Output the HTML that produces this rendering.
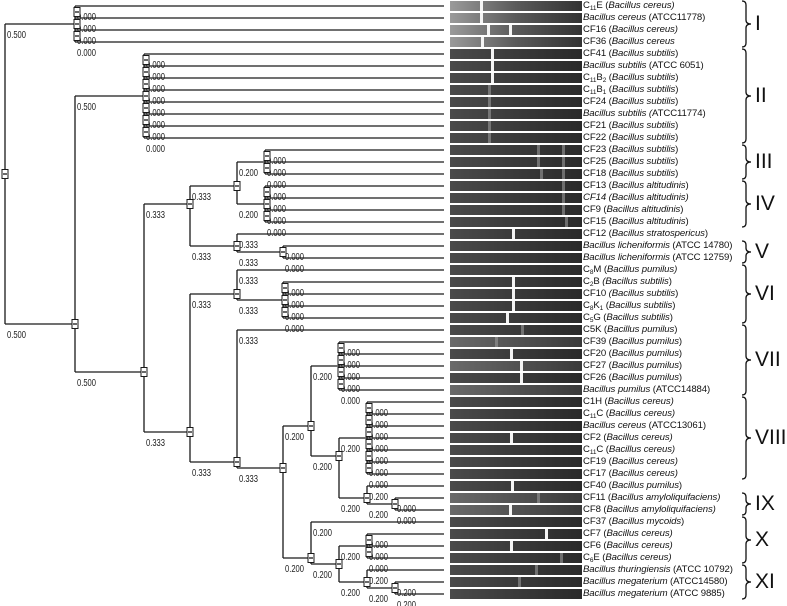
<!DOCTYPE html>
<html><head><meta charset="utf-8">
<style>
body{margin:0;background:#fff;width:787px;height:606px;overflow:hidden;position:relative;font-family:"Liberation Sans",sans-serif}
svg{position:absolute;left:0;top:0}
.lab{position:absolute;left:583px;font-size:9.6px;line-height:11px;white-space:nowrap;color:#111;letter-spacing:-0.1px}
.lab i{font-style:italic}
.lab sub{font-size:6.5px;vertical-align:-2px;line-height:0}
.rom{position:absolute;font-size:21px;color:#111;line-height:21px}
</style></head>
<body>
<svg id="chart" width="787" height="606"></svg>
<div id="labels"></div>
<script>
const rowY0 = 6, rowStep = 12, leafEnd = 444;
const strainLabels = [
 'C<sub>11</sub>E (<i>Bacillus cereus)</i>','<i>Bacillus cereus</i> (ATCC11778)','CF16 (<i>Bacillus cereus)</i>','CF36 (<i>Bacillus cereus</i>',
 'CF41 (<i>Bacillus subtilis</i>)','<i>Bacillus subtilis</i> (ATCC 6051)','C<sub>11</sub>B<sub>2</sub> (<i>Bacillus subtilis</i>)','C<sub>11</sub>B<sub>1</sub> (<i>Bacillus subtilis</i>)',
 'CF24 (<i>Bacillus subtilis</i>)','<i>Bacillus subtilis (</i>ATCC11774)','CF21 (<i>Bacillus subtilis</i>)','CF22 (<i>Bacillus subtilis</i>)',
 'CF23 (<i>Bacillus subtilis</i>)','CF25 (<i>Bacillus subtilis</i>)','CF18 (<i>Bacillus subtilis</i>)','CF13 (<i>Bacillus altitudinis</i>)',
 '<i>CF14 (Bacillus altitudinis)</i>','CF9 (<i>Bacillus altitudinis</i>)','CF15 (<i>Bacillus altitudinis</i>)','CF12 (<i>Bacillus stratospericus</i>)',
 '<i>Bacillus licheniformis</i> (ATCC 14780)','<i>Bacillus licheniformis</i> (ATCC 12759)','C<sub>8</sub>M (<i>Bacillus pumilus)</i>','C<sub>2</sub>B <i>(Bacillus subtilis</i>)',
 'CF10 <i>(Bacillus subtilis</i>)','C<sub>8</sub>K<sub>1</sub> (<i>Bacillus subtilis</i>)','C<sub>5</sub>G (<i>Bacillus subtilis</i>)','C5K (<i>Bacillus pumilus</i>)',
 'CF39 (<i>Bacillus pumilus</i>)','CF20 (<i>Bacillus pumilus</i>)','CF27 (<i>Bacillus pumilus</i>)','CF26 (<i>Bacillus pumilus</i>)',
 '<i>Bacillus pumilus</i> (ATCC14884)','C1H (<i>Bacillus cereus)</i>','C<sub>11</sub>C (<i>Bacillus cereus)</i>','<i>Bacillus cereus</i> (ATCC13061)',
 'CF2 (<i>Bacillus cereus)</i>','C<sub>11</sub>C (<i>Bacillus cereus)</i>','CF19 (<i>Bacillus cereus)</i>','CF17 (<i>Bacillus cereus)</i>',
 'CF40 (<i>Bacillus pumilus</i>)','CF11 (<i>Bacillus amyloliquifaciens)</i>','CF8 (<i>Bacillus amyloliquifaciens)</i>','CF37 (<i>Bacillus mycoids</i>)',
 'CF7 (<i>Bacillus cereus)</i>','CF6 (<i>Bacillus cereus)</i>','C<sub>6</sub>E (<i>Bacillus cereus)</i>','<i>Bacillus thuringiensis</i> (ATCC 10792)',
 '<i>Bacillus megaterium</i> (ATCC14580)','<i>Bacillus megaterium</i> (ATCC 9885)'];
// gel band gaps per lane (x positions), light lanes
const laneGaps = {1:[480],2:[480],3:[487,509],4:[481],5:[491],6:[491],7:[491],20:[512],24:[512],25:[512],26:[512],27:[506],30:[510],31:[520],32:[520],37:[510],41:[511],43:[509],45:[545],46:[510]};
const laneFaint = {8:[488],9:[488],10:[488],11:[488],12:[488],13:[537,562],14:[537,562],15:[540,562],16:[562],17:[562],18:[562],19:[565],28:[521],29:[495],42:[537],47:[560],48:[535],49:[518]};
const lightLanes = [1,2,3,4,29,31,33,42,43];
const groups = [['I',1,4],['II',5,12],['III',13,15],['IV',16,19],['V',21,22],['VI',23,27],['VII',28,33],['VIII',34,40],['IX',42,43],['X',44,47],['XI',48,50]];

function N(x,b,kids){return {x:x,b:b,kids:kids};}
function L(r,b){return {r:r,b:b};}
function Ls(a,z,b){const o=[];for(let r=a;r<=z;r++)o.push(L(r,b));return o;}
const tree = N(5,'',[
 N(75,'0.500',Ls(1,4,'0.000')),
 N(75,'0.500',[
  N(144,'0.500',Ls(5,12,'0.000')),
  N(144,'0.500',[
   N(190,'0.333',[
    N(237,'0.333',[N(265,'0.200',Ls(13,15,'0.000')),N(265,'0.200',Ls(16,19,'0.000'))]),
    N(237,'0.333',[L(20,'0.333'),N(283,'0.333',Ls(21,22,'0.000'))])
   ]),
   N(190,'0.333',[
    N(237,'0.333',[L(23,'0.333'),N(283,'0.333',Ls(24,27,'0.000'))]),
    N(237,'0.333',[L(28,'0.333'),N(283,'0.333',[
     N(311,'0.200',[N(339,'0.200',Ls(29,33,'0.000')),N(339,'0.200',[N(367,'0.200',Ls(34,40,'0.000')),N(367,'0.200',[L(41,'0.200'),N(395,'0.200',Ls(42,43,'0.000'))])])]),
     N(311,'0.200',[L(44,'0.200'),N(339,'0.200',[N(367,'0.200',Ls(45,47,'0.000')),N(367,'0.200',[L(48,'0.200'),N(395,'0.200',Ls(49,50,'0.200'))])])])
    ])])
   ])
  ])
 ])
]);

const NS='http://www.w3.org/2000/svg';
const svg=document.getElementById('chart');
function rowY(r){return rowY0+rowStep*(r-1);}
function el(tag,attrs){const e=document.createElementNS(NS,tag);for(const k in attrs)e.setAttribute(k,attrs[k]);svg.appendChild(e);return e;}
function leaves(n){return n.kids?n.kids.reduce((a,k)=>a.concat(leaves(k)),[]):[n.r];}
function nodeY(n){const l=leaves(n);return l.reduce((a,r)=>a+rowY(r),0)/l.length;}

// gel lanes
for(let r=1;r<=50;r++){
  const y=rowY(r);
  const light=lightLanes.indexOf(r)>=0;
  const top=r<=4;
  const g=el('rect',{x:450,y:y-5,width:132,height:10,fill:top?'url(#gTop)':(light?'url(#gLight)':'url(#gDark)')});
  
  
  (laneGaps[r]||[]).forEach(gx=>{const b=el('rect',{x:gx,y:y-5,width:3,height:10,fill:'#f4f4f4'});
    
    });
  (laneFaint[r]||[]).forEach(gx=>{const b=el('rect',{x:gx,y:y-5,width:3,height:10,fill:'#9a9a9a',opacity:0.6});
    
    });
}
const defs=el('defs',{});
defs.innerHTML='<linearGradient id="gTop"><stop offset="0" stop-color="#9a9a9a"/><stop offset="0.5" stop-color="#5a5a5a"/><stop offset="1" stop-color="#333"/></linearGradient>'+
'<linearGradient id="gDark"><stop offset="0" stop-color="#4a4a4a"/><stop offset="1" stop-color="#2a2a2a"/></linearGradient>'+
'<linearGradient id="gLight"><stop offset="0" stop-color="#6a6a6a"/><stop offset="1" stop-color="#3a3a3a"/></linearGradient>';

function line(x1,y1,x2,y2,name){const l=el('line',{x1:x1,y1:y1,x2:x2,y2:y2,stroke:'#1a1a1a','stroke-width':1.3});
  
  }
function box(x,y){const b=el('rect',{x:x-3,y:y-4.5,width:6,height:9,fill:'#fff',stroke:'#1a1a1a','stroke-width':1});
  
  
  line(x-2,y,x+2,y,'node-box-mark');}
function label(x,y,t){const e=el('text',{x:x,y:y,'font-size':10,'font-family':'Liberation Sans, sans-serif',fill:'#222',textLength:19,lengthAdjust:'spacingAndGlyphs'});
  e.textContent=t;
  
  }

function draw(n){
  const ys=n.kids.map(k=>k.kids?nodeY(k):rowY(k.r));
  line(n.x,Math.min(...ys),n.x,Math.max(...ys),'vertical-branch');
  n.kids.forEach((k,i)=>{
    const cy=ys[i];
    const ex=k.kids?k.x:leafEnd;
    line(n.x,cy,ex,cy,k.kids?'internal-branch':'leaf-branch-'+k.r);
    if(k.b)label(n.x+2,cy+14,k.b);
    if(k.kids)draw(k);
  });
  const allLeaf=n.kids.every(k=>!k.kids);
  if(allLeaf&&n.kids.length>2){for(let i=0;i<ys.length-1;i++)box(n.x+2,(ys[i]+ys[i+1])/2);}
  else box(n.x,n.x===5?(Math.min(...ys)+Math.max(...ys))/2:nodeY(n));
}
draw(tree);

// brackets
groups.forEach(g=>{
  const y1=rowY(g[1])-5,y2=rowY(g[2])+5,ym=(y1+y2)/2,x=742;
  const p=el('path',{d:`M${x},${y1} q4,0 4,4 L${x+4},${ym-4} q0,4 5,4 q-5,0 -5,4 L${x+4},${y2-4} q0,4 -4,4`,fill:'none',stroke:'#111','stroke-width':1.3});
  
  
  const d=document.createElement('div');d.className='rom';d.textContent=g[0];
  d.style.left='755px';d.style.top=(ym-11)+'px';
  
  
  document.body.appendChild(d);
});
// strain labels
const lw=document.getElementById('labels');
strainLabels.forEach((t,i)=>{const d=document.createElement('div');d.className='lab';d.innerHTML=t;
  d.style.top=(rowY(i+1)-6)+'px';
  
  
  lw.appendChild(d);});
</script>
</body></html>
